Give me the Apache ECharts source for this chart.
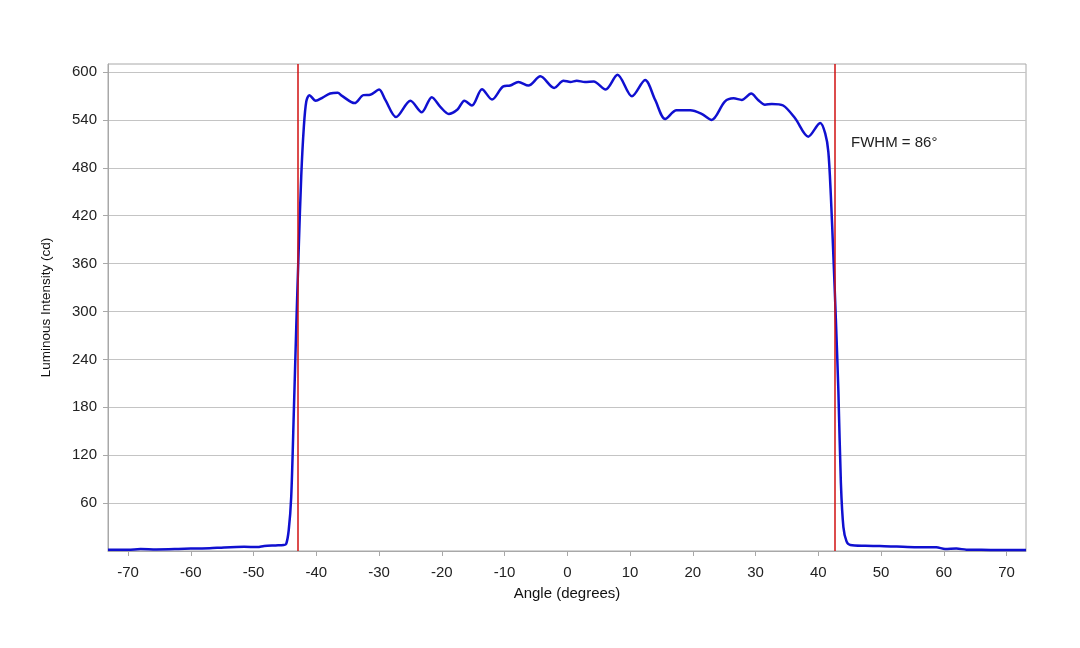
<!DOCTYPE html>
<html>
<head>
<meta charset="utf-8">
<script src="https://cdn.jsdelivr.net/npm/echarts@6/dist/echarts.min.js"></script>
<style>html,body{margin:0;padding:0;background:#fff}#c{width:1080px;height:648px}</style>
</head>
<body>
<div id="c"></div>
<script>
const angles = [-73.2,-70,-68,-65.5,-62,-60,-57,-54.7,-51.5,-49.4,-48.3,-46.5,-45.2,-44.8,-44.4,-44.0,-43.6,-43.2,-42.8,-42.4,-42.0,-41.6,-41.1,-40.1,-39.0,-37.8,-36.6,-35.9,-33.9,-32.5,-31.4,-30.0,-29.0,-27.3,-25.0,-23.2,-21.6,-20.2,-18.9,-17.5,-16.4,-15.2,-13.6,-12.0,-10.2,-9.1,-7.8,-6.2,-4.3,-2.1,-0.6,0.5,1.5,2.8,4.2,6.1,8.0,10.3,12.4,14.0,15.6,17.4,19.6,21.4,23.0,25.1,26.5,27.8,29.3,30.4,31.5,32.6,34.4,36.3,38.4,40.3,41.1,41.6,42.0,42.4,42.8,43.2,43.6,44.0,44.5,45.1,47.5,49.8,52.5,55.7,58.8,60.2,62.0,63.6,66,68.9,73.1];
const intensity = [1.5,1.5,2.5,2,2.5,3,3.5,4.5,5.2,5,6.3,7,7.5,9,26,68,170,280,380,470,530,563,571,564,568,573,574,570,561,571,571.5,578,565,543.5,564,549.5,568.5,556,547.5,553,564,558,578.5,565.5,582,583,587.5,583,594.5,580,589,587.5,589,587.5,588,578,596.5,569.5,590,565,541,552,552,547.5,540,563,567,565,573,565,559,560,558,542,519,536,523,500,445,370,290,200,85,30,12,7.5,6.5,6.3,5.5,4.6,4.6,2.5,3,1.7,1.5,1.3,1.3];
const fwhmLines = [-42.9, 42.7];
const xTicks = [-70,-60,-50,-40,-30,-20,-10,0,10,20,30,40,50,60,70];
const yTicks = [60,120,180,240,300,360,420,480,540,600];

const chart = echarts.init(document.getElementById('c'));
const font = "'Liberation Sans', Arial, sans-serif";
chart.setOption({
  animation: false,
  backgroundColor: '#fff',
  grid: { left: 108, right: 54, top: 64, bottom: 97, show: true, borderColor: '#a8a8a8', borderWidth: 1 },
  xAxis: {
    type: 'value', min: -73.2, max: 73.1,
    name: 'Angle (degrees)', nameLocation: 'middle', nameGap: 35,
    nameTextStyle: { fontFamily: font, fontSize: 15, color: '#111' },
    axisLine: { show: true, onZero: false, lineStyle: { color: '#a8a8a8' } },
    axisTick: { show: true, length: 5, customValues: xTicks, lineStyle: { color: '#a8a8a8' } },
    axisLabel: { customValues: xTicks, fontFamily: font, fontSize: 15, color: '#222', margin: 14 },
    splitLine: { show: false }
  },
  yAxis: {
    type: 'value', min: 0, max: 610, interval: 60,
    name: 'Luminous Intensity (cd)', nameLocation: 'middle', nameGap: 55,
    nameTextStyle: { fontFamily: font, fontSize: 13.5, color: '#111' },
    axisLine: { show: true, onZero: false, lineStyle: { color: '#a8a8a8' } },
    axisTick: { show: true, length: 5, customValues: yTicks, lineStyle: { color: '#a8a8a8' } },
    axisLabel: { customValues: yTicks, fontFamily: font, fontSize: 15, color: '#222', margin: 11 },
    splitLine: { show: true, lineStyle: { color: '#c4c4c4', width: 1 } }
  },
  series: [{
    type: 'line',
    data: angles.map((a, i) => [a, intensity[i]]),
    showSymbol: false,
    smooth: 0.3,
    lineStyle: { color: '#1010d0', width: 2.5 },
    markLine: {
      silent: true, symbol: 'none', label: { show: false },
      lineStyle: { color: '#d01010', width: 1.5, type: 'solid' },
      data: fwhmLines.map(v => ({ xAxis: v }))
    },
    z: 3
  }],
  graphic: [{
    type: 'text', left: 851, top: 135,
    style: { text: 'FWHM = 86°', fontFamily: font, fontSize: 15, fill: '#222' }
  }]
});
</script>
</body>
</html>
